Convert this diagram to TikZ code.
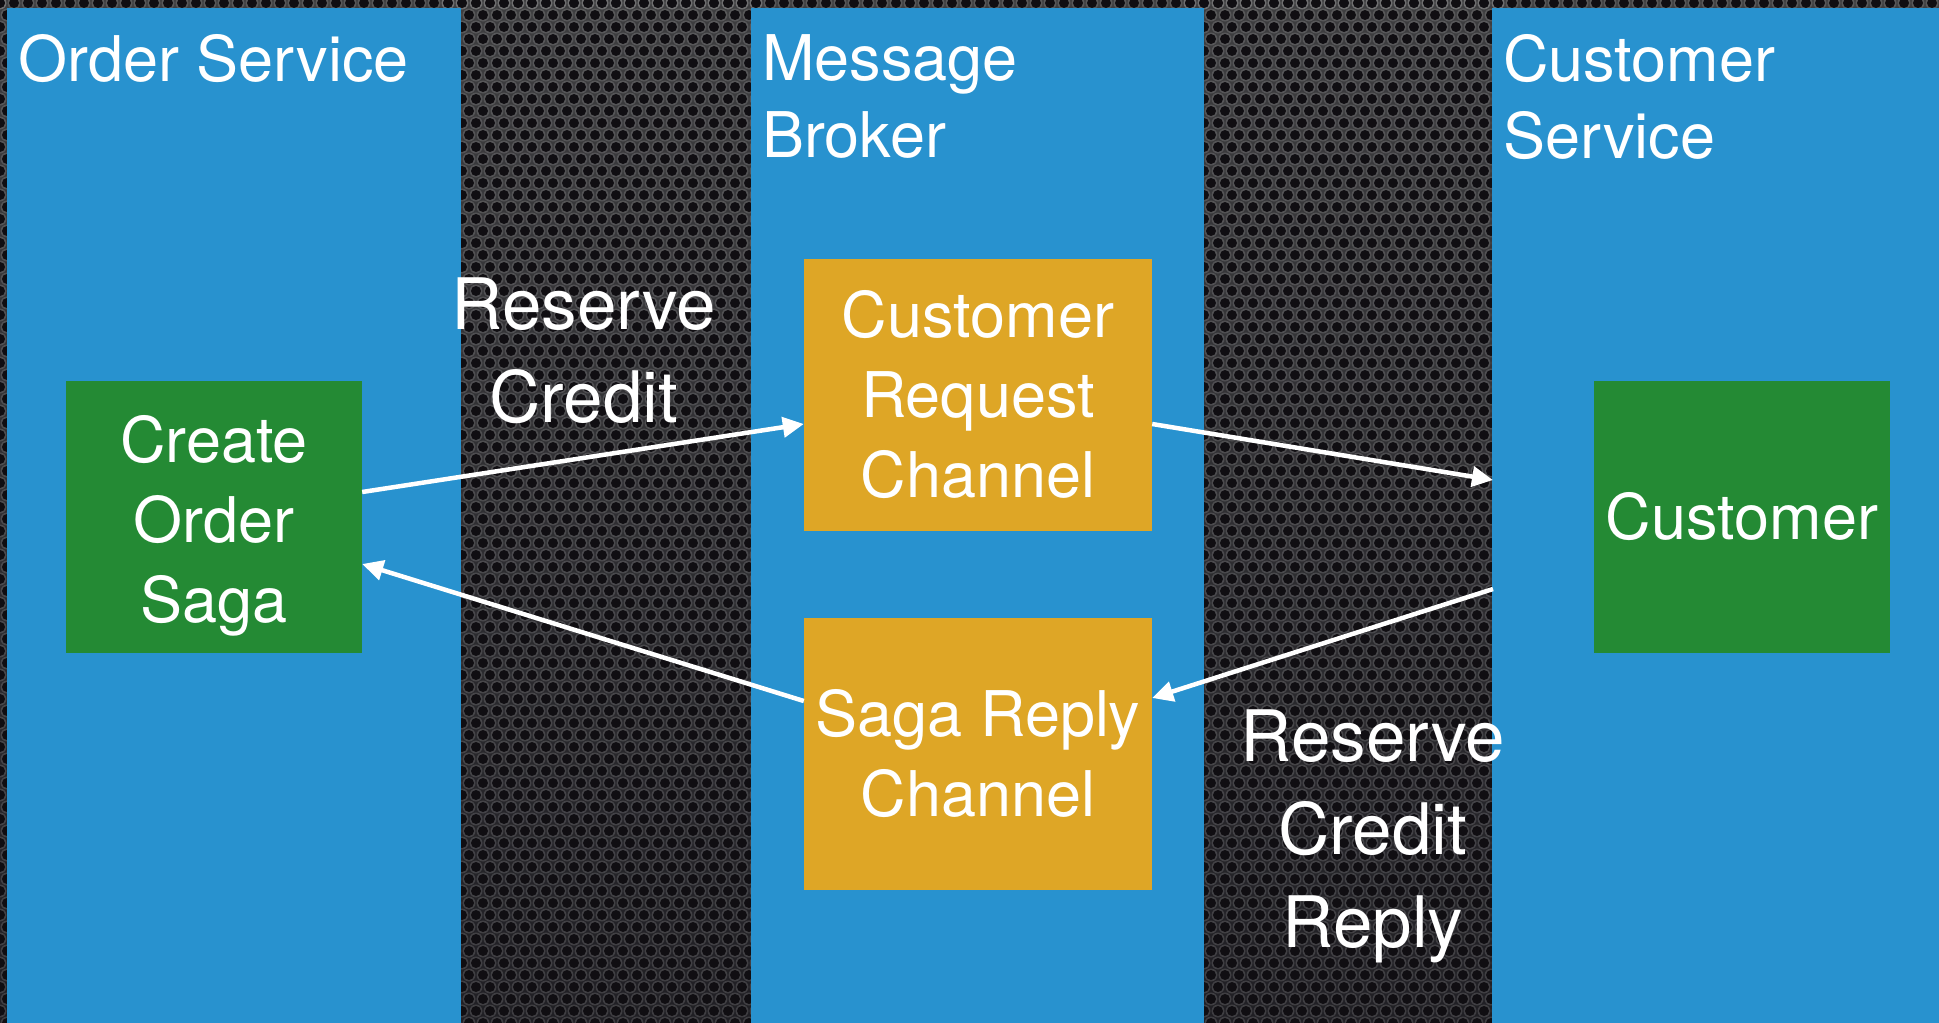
\documentclass[tikz,border=0pt]{standalone}
\usepackage{fontspec}
\setmainfont{TeX Gyre Heros}
\usetikzlibrary{arrows.meta,calc}

\definecolor{panelblue}{RGB}{40,146,207}
\definecolor{sagagreen}{RGB}{36,138,52}
\definecolor{chanorange}{RGB}{222,166,38}
\definecolor{platetop}{RGB}{62,62,64}
\definecolor{platebot}{RGB}{32,31,36}
\definecolor{holeblack}{RGB}{16,14,18}

% invisible strut that makes a first line taller
\newcommand{\tallline}{\rule{0pt}{64pt}}

\tikzset{
  panel/.style={fill=panelblue, draw=none, anchor=north west, inner sep=0pt},
  component/.style={fill=sagagreen, draw=none, inner sep=0pt, align=center,
    text=white, font=\fontsize{63}{80}\selectfont,
    minimum width=296pt, minimum height=272pt},
  channel/.style={component, fill=chanorange, minimum width=348pt},
  paneltitle/.style={anchor=north west, inner sep=0pt, align=left, text=white,
    font=\fontsize{63}{77}\selectfont},
  msglabel/.style={anchor=north, inner sep=0pt, align=center, text=white,
    font=\fontsize{71}{93}\selectfont},
  flow/.style={draw=white, line width=4.5pt, -{Triangle[length=21pt,width=20pt]}},
}

\begin{document}
\begin{tikzpicture}[x=1pt,y=-1pt]
  \useasboundingbox (0,0) rectangle (1939,1023);

  % perforated metal plate
  \shade[top color=platetop, bottom color=platebot] (0,0) rectangle (1939,1023);
  \foreach \r in {0,...,86}{
    \pgfmathsetmacro\yy{12*\r+3}
    \pgfmathsetmacro\off{mod(\r,2)*7}
    \fill[white, opacity=0.14]
      (\off,\yy) circle[radius=6.5]
      \foreach \k in {32,...,54}{ (\k*14+\off,\yy) circle[radius=6.5] }
      \foreach \k in {85,...,107}{ (\k*14+\off,\yy) circle[radius=6.5] };
    \fill[holeblack]
      (\off,\yy) circle[radius=5]
      \foreach \k in {32,...,54}{ (\k*14+\off,\yy) circle[radius=5] }
      \foreach \k in {85,...,107}{ (\k*14+\off,\yy) circle[radius=5] };
  }
  \fill[white, opacity=0.14] \foreach \k in {0,...,139}{ (\k*14,3) circle[radius=6.5] };
  \fill[holeblack] \foreach \k in {0,...,139}{ (\k*14,3) circle[radius=5] };

  % service columns
  \node[panel, minimum width=454pt, minimum height=1015pt] (orderpanel) at (7,8) {};
  \node[panel, minimum width=453pt, minimum height=1015pt] (brokerpanel) at (751,8) {};
  \node[panel, minimum width=447pt, minimum height=1015pt] (custpanel) at (1492,8) {};

  \node[paneltitle] (ordertitle) at (18,34) {Order Service};
  \node[paneltitle] (brokertitle) at (762,34) {Message\\Broker};
  \node[paneltitle] (custtitle) at (1503,34) {Customer\\Service};

  % components and channels
  \node[component] (saga) at (214,517) {\tallline Create\\Order\\Saga};
  \node[component] (customer) at (1742,517) {Customer};
  \node[channel] (request) at (978,395) {Customer\\Request\\Channel};
  \node[channel] (reply) at (978,754) {Saga Reply\\Channel};

  % message flow
  \coordinate (custin) at (1493,480);
  \coordinate (custout) at (1493,589);
  \draw[flow] ($(saga.east)+(0,-25)$) -- ($(request.west)+(0,29)$);
  \draw[flow] ($(request.east)+(0,29)$) -- (custin);
  \draw[flow] (custout) -- ($(reply.east)+(0,-56)$);
  \draw[flow] ($(reply.west)+(0,-53)$) -- ($(saga.east)+(0,47)$);

  \node[msglabel] (cmdlabel) at (584,278) {Reserve\\Credit};
  \node[msglabel] (replylabel) at (1373,710) {Reserve\\Credit\\Reply};
\end{tikzpicture}
\end{document}
